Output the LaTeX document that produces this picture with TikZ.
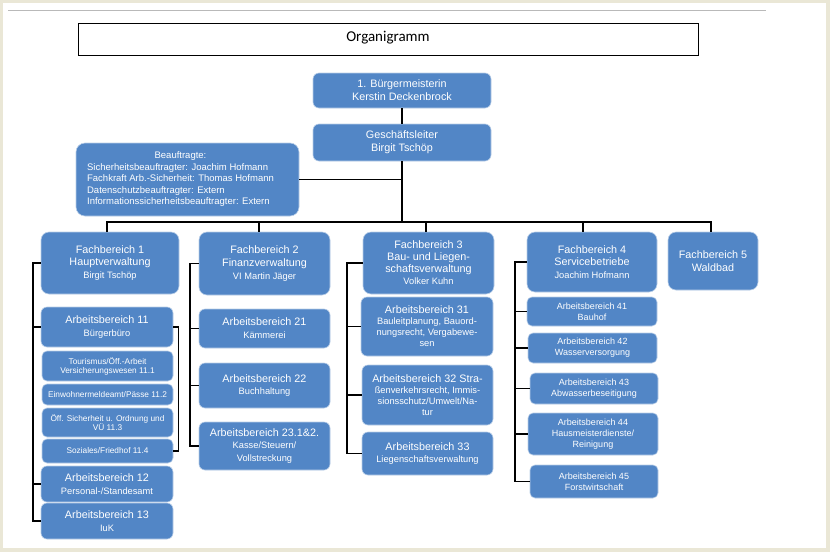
\documentclass[tikz,border=0pt]{standalone}
\usepackage{fontspec}
\setmainfont{Liberation Sans}
\newfontfamily\calibri{Carlito}
\definecolor{boxblue}{RGB}{82,134,198}
\definecolor{beige}{RGB}{234,231,214}
\newcommand\hd{\fontsize{10.8}{12.8}\selectfont}
\newcommand\hdt{\fontsize{10.8}{12}\selectfont}
\newcommand\sm{\fontsize{9.3}{11}\selectfont}
\newcommand\fsm{\fontsize{9}{11}\selectfont}
\newcommand\tn{\fontsize{8.3}{9}\selectfont}
\newcommand\bea{\fontsize{9.5}{11.5}\selectfont}
\begin{document}
\begin{tikzpicture}[x=1pt,y=-1pt,
  box/.style={draw=white!60!boxblue, line width=0.6pt, fill=boxblue, rounded corners=6pt,
    text=white, align=center, inner sep=1pt, font=\hd},
  tinybox/.style={box, font=\tn, rounded corners=5pt, minimum width=131pt},
  box4/.style={box, font=\fsm, rounded corners=5pt},
  conn/.style={line width=1.9pt, black}]
\useasboundingbox (0,0) rectangle (830,552);
\fill[beige] (0,0) rectangle (830,552);
\fill[white] (3,3) rectangle (826,548);
\draw[gray!55, line width=0.9pt] (8,10) -- (766,10);
\node[draw=black, line width=0.8pt, minimum width=620pt, minimum height=32pt, inner sep=0pt] (title) at (388,39)
  {\calibri\fontsize{15}{18}\selectfont\raisebox{5pt}{Organigramm}};

% top
\node[box, minimum width=178pt, minimum height=35pt] (bm) at (402,90.5) {1. Bürgermeisterin\\Kerstin Deckenbrock};
\node[box, minimum width=178pt, minimum height=37pt] (gl) at (402,142.5) {Geschäftsleiter\\Birgit Tschöp};
\node[box, minimum width=223pt, minimum height=73pt, font=\bea, rounded corners=9pt] (bea) at (187.5,179.5)
  {\begin{tabular}{@{}l@{\hspace{14pt}}}\multicolumn{1}{@{}c@{\hspace{14pt}}}{Beauftragte:}\\
   Sicherheitsbeauftragter: Joachim Hofmann\\
   Fachkraft Arb.-Sicherheit: Thomas Hofmann\\
   Datenschutzbeauftragter: Extern\\
   Informationssicherheitsbeauftragter: Extern\end{tabular}};

% Fachbereiche
\node[box, minimum width=138pt, minimum height=62pt, rounded corners=8pt] (fb1) at (110,263) {Fachbereich 1\\Hauptverwaltung\\{\sm Birgit Tschöp}};
\node[box, minimum width=131pt, minimum height=63pt, rounded corners=8pt] (fb2) at (264.5,263.5) {Fachbereich 2\\Finanzverwaltung\\{\sm VI Martin Jäger}};
\node[box, minimum width=131pt, minimum height=62pt, font=\hdt, rounded corners=8pt] (fb3) at (428.5,263) {Fachbereich 3\\Bau- und Liegen-\\schaftsverwaltung\\{\sm Volker Kuhn}};
\node[box, minimum width=130pt, minimum height=60pt, rounded corners=8pt] (fb4) at (592,262) {Fachbereich 4\\Servicebetriebe\\{\sm Joachim Hofmann}};
\node[box, minimum width=90pt, minimum height=58pt, rounded corners=8pt] (fb5) at (713,261) {Fachbereich 5\\Waldbad};

% FB1
\node[box, minimum width=132pt, minimum height=40pt] (ab11) at (107,327) {Arbeitsbereich 11\\{\sm Bürgerbüro}};
\node[tinybox, minimum height=30pt] (t111) at (107.5,366) {Tourismus/Öff.-Arbeit\\Versicherungswesen 11.1};
\node[tinybox, minimum height=21pt] (t112) at (107.5,394.5) {Einwohnermeldeamt/Pässe 11.2};
\node[tinybox, minimum height=29pt] (t113) at (107.5,422.5) {Öff. Sicherheit u. Ordnung und\\VÜ 11.3};
\node[tinybox, minimum height=24pt] (t114) at (107.5,451) {Soziales/Friedhof 11.4};
\node[box, minimum width=132pt, minimum height=36pt] (ab12) at (107,484) {Arbeitsbereich 12\\{\sm Personal-/Standesamt}};
\node[box, minimum width=132pt, minimum height=36pt] (ab13) at (107,521) {Arbeitsbereich 13\\{\sm IuK}};

% FB2
\node[box, minimum width=131pt, minimum height=39pt] (ab21) at (264.5,328.5) {Arbeitsbereich 21\\{\sm Kämmerei}};
\node[box, minimum width=131pt, minimum height=45pt] (ab22) at (264.5,385.5) {Arbeitsbereich 22\\{\sm Buchhaltung}};
\node[box, minimum width=131pt, minimum height=48pt] (ab23) at (264.5,446) {Arbeitsbereich 23.1\&2.\\{\sm Kasse/Steuern/}\\{\sm Vollstreckung}};

% FB3
\node[box, minimum width=132pt, minimum height=59pt, font=\sm] (ab31) at (427,326.5) {{\hd Arbeitsbereich 31}\\Bauleitplanung, Bauord-\\nungsrecht, Vergabewe-\\sen};
\node[box, minimum width=131pt, minimum height=60pt, font=\sm] (ab32) at (427.5,395) {{\hd Arbeitsbereich 32 Stra-}\\ßenverkehrsrecht, Immis-\\sionsschutz/Umwelt/Na-\\tur};
\node[box, minimum width=131pt, minimum height=43pt] (ab33) at (427.5,453.5) {Arbeitsbereich 33\\{\sm Liegenschaftsverwaltung}};

% FB4
\node[box4, minimum width=130pt, minimum height=29pt] (ab41) at (592,311.5) {Arbeitsbereich 41\\Bauhof};
\node[box4, minimum width=129pt, minimum height=30pt] (ab42) at (592.5,348) {Arbeitsbereich 42\\Wasserversorgung};
\node[box4, minimum width=128pt, minimum height=31pt] (ab43) at (594,388.5) {Arbeitsbereich 43\\Abwasserbeseitigung};
\node[box4, minimum width=130pt, minimum height=42pt] (ab44) at (593,434) {Arbeitsbereich 44\\Hausmeisterdienste/\\Reinigung};
\node[box4, minimum width=128pt, minimum height=33pt] (ab45) at (594,481.5) {Arbeitsbereich 45\\Forstwirtschaft};

% connectors
\coordinate (bus) at (401,222);
\draw[conn] (bm) -- (gl);
\draw[conn] (gl.south) -- (gl.south |- bus);
\draw[conn] (bea.east) -- (bea.east -| gl.south);
\draw[conn] ([xshift=-3pt]fb1.north) -- ([xshift=-3pt]fb1.north |- bus) -- ([xshift=-2pt]fb5.north |- bus) -- ([xshift=-2pt]fb5.north);
\draw[conn] ([xshift=-5.5pt]fb2.north) -- ([xshift=-5.5pt]fb2.north |- bus);
\draw[conn] ([xshift=-2.5pt]fb3.north) -- ([xshift=-2.5pt]fb3.north |- bus);
\draw[conn] ([xshift=-9pt]fb4.north) -- ([xshift=-9pt]fb4.north |- bus);

\coordinate (s1) at ([xshift=-8pt]fb1.west);
\draw[conn] (fb1.west) -- (s1) |- (ab13.west);
\draw[conn] (ab11.west) -- (ab11.west -| s1);
\draw[conn] (ab12.west) -- (ab12.west -| s1);
\coordinate (r1) at ([xshift=5pt]ab11.east);
\draw[conn, line width=1.5pt] (ab11.east) -- (r1) |- (t114.east);

\coordinate (s2) at ([xshift=-9pt]fb2.west);
\draw[conn] (fb2.west) -- (s2) |- (ab23.west);
\draw[conn] (ab21.west) -- (ab21.west -| s2);
\draw[conn] (ab22.west) -- (ab22.west -| s2);

\coordinate (s3) at ([xshift=-16pt]fb3.west);
\draw[conn] (fb3.west) -- (s3) |- (ab33.west);
\draw[conn] (ab31.west) -- (ab31.west -| s3);
\draw[conn] (ab32.west) -- (ab32.west -| s3);

\coordinate (s4) at ([xshift=-12pt]fb4.west);
\draw[conn] (fb4.west) -- (s4) |- (ab45.west);
\foreach \n in {ab41,ab42,ab43,ab44} \draw[conn] (\n.west) -- (\n.west -| s4);
\end{tikzpicture}
\end{document}
